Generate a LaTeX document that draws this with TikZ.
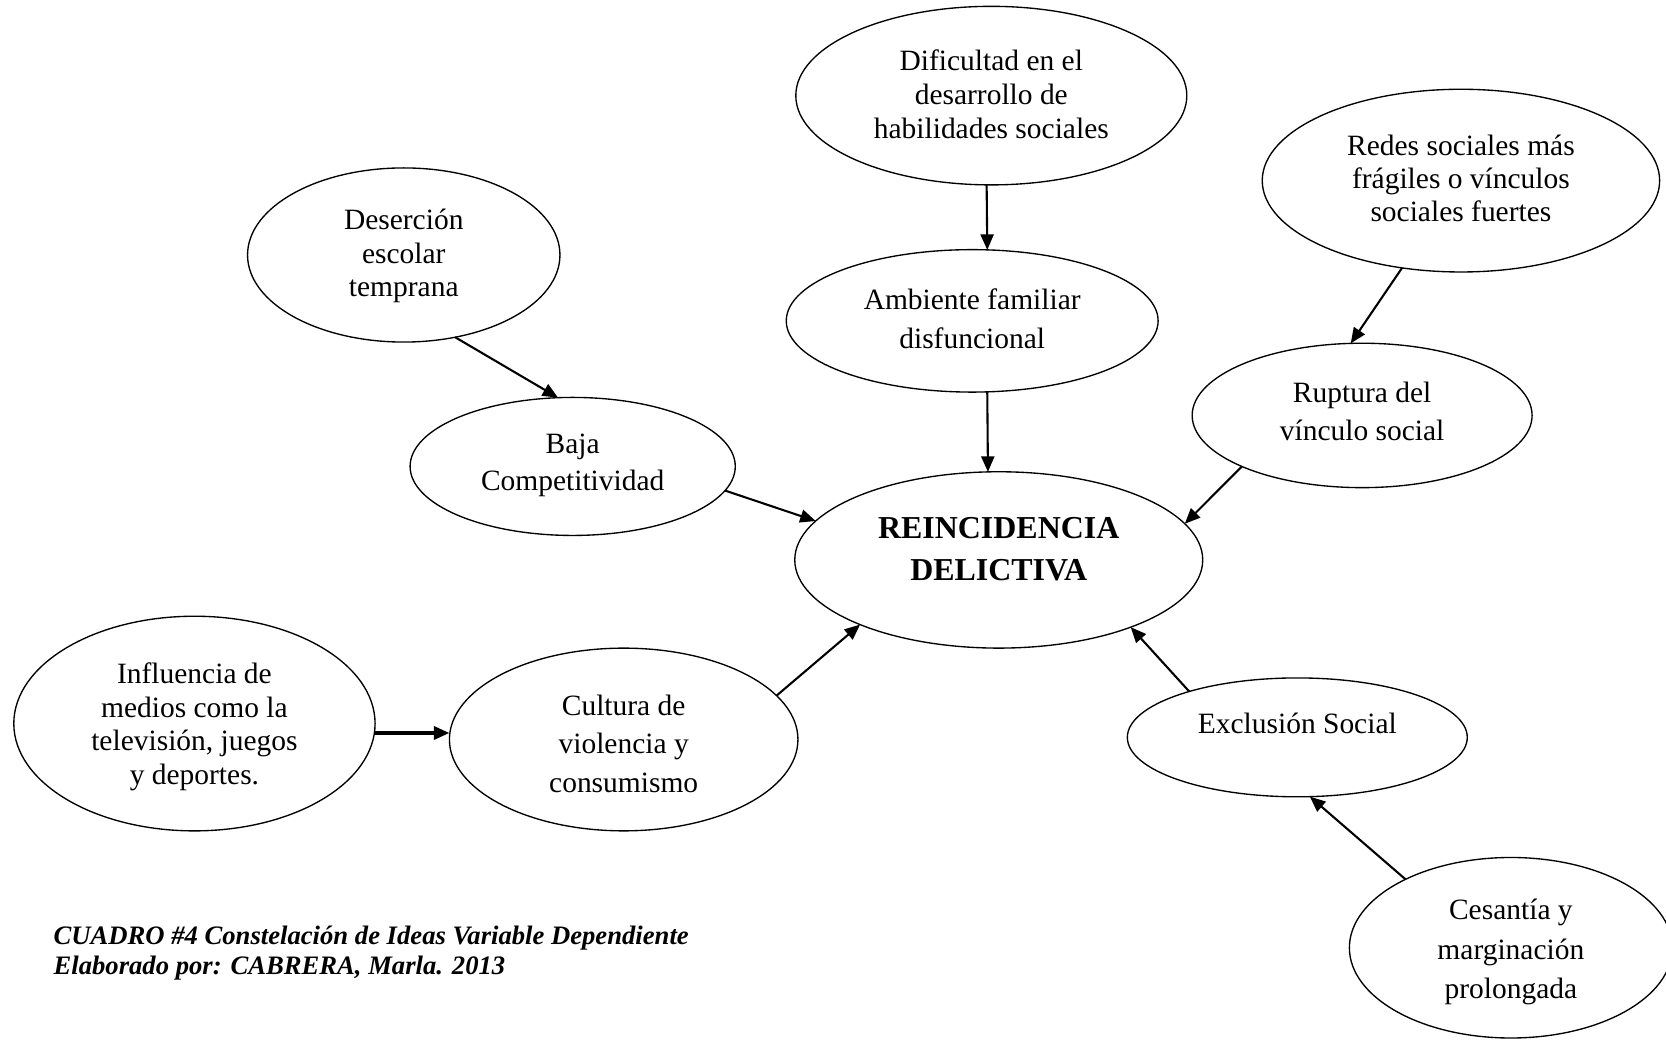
\documentclass[tikz,border=0pt]{standalone}
\usepackage{fontspec}
\setmainfont{Liberation Serif}
\usetikzlibrary{arrows.meta,shapes.geometric}
\tikzset{
  oval/.style={ellipse, draw, line width=0.55pt, inner sep=0pt, outer sep=0pt},
  txt/.style={font=\fontsize{12pt}{#1pt}\selectfont, align=center, inner sep=0pt},
  arr/.style={-{Triangle[length=6.3pt,width=5.3pt]}, line width=0.85pt},
  caption/.style={font=\fontsize{10.85pt}{12.1pt}\selectfont\bfseries\itshape, align=left, inner sep=0pt, anchor=west}
}
\begin{document}
\begin{tikzpicture}[x=0.4326pt, y=-0.4326pt]
\useasboundingbox (0,0) rectangle (1568,978);
\fill[white] (0,0) rectangle (1568,978);
\clip (0,0) rectangle (1568,978);

% ellipses
\node[oval, minimum width=159.2pt, minimum height=72.7pt] (dif) at (933,90) {};
\node[oval, minimum width=161.8pt, minimum height=74.4pt] (red) at (1375,170) {};
\node[oval, minimum width=127.2pt, minimum height=70.9pt] (des) at (380,240) {};
\node[oval, minimum width=151.4pt, minimum height=58.0pt] (amb) at (915,302) {};
\node[oval, minimum width=138.4pt, minimum height=58.8pt] (rup) at (1282,391) {};
\node[oval, minimum width=132.4pt, minimum height=56.2pt] (baj) at (539,439) {};
\node[oval, minimum width=166.1pt, minimum height=71.8pt] (rei) at (940,527) {};
\node[oval, minimum width=147.1pt, minimum height=87.4pt] (inf) at (183,681) {};
\node[oval, minimum width=141.9pt, minimum height=74.4pt] (cul) at (587,696) {};
\node[oval, minimum width=138.4pt, minimum height=48.4pt] (exc) at (1221,694) {};
\node[oval, minimum width=131.5pt, minimum height=73.5pt] (ces) at (1422,892) {};

% texts
\node[txt=13.84] (difT) at (933,89) {Dificultad en el\\desarrollo de\\habilidades sociales};
\node[txt=13.6] (redT) at (1375,168) {Redes sociales más\\frágiles o vínculos\\sociales fuertes};
\node[txt=13.6] (desT) at (380,241) {Deserción\\escolar\\temprana};
\node[txt=15.6] (ambT) at (915,300) {Ambiente familiar\\disfuncional};
\node[txt=15.4] (rupT) at (1282,387) {Ruptura del\\vínculo social};
\node[txt=14.9] (bajT) at (539,438) {Baja\\Competitividad};
\node[font=\fontsize{13pt}{16.9pt}\selectfont\bfseries, align=center, inner sep=0pt] (reiT) at (940,517) {REINCIDENCIA\\DELICTIVA};
\node[txt=13.6] (infT) at (183,684) {Influencia de\\medios como la\\televisión, juegos\\y deportes.};
\node[txt=15.8] (culT) at (587,700) {Cultura de\\violencia y\\consumismo};
\node[txt=14] (excT) at (1221,681) {Exclusión Social};
\node[txt=16.2] (cesT) at (1422,896) {Cesantía y\\marginación\\prolongada};

% connectors
\draw[arr] (dif.-93) -- (amb.78.5);
\draw[arr] (amb.-78.7) -- (rei.97.4);
\draw[arr] (red.-124.3) -- (rup.99.2);
\draw[arr] (rup.-157.1) -- (rei.11.9);
\draw[arr] (des.-58.4) -- (baj.102.3);
\draw[arr] (baj.-9.5) -- (rei.168.7);
\draw[arr, line width=1.3pt] (inf.-3) -- (inf.-3 -| cul.west);
\draw[arr] (cul.16.2) -- (rei.-155.4);
\draw[arr] (exc.157.3) -- (rei.-27.5);
\draw[arr] (ces.147.6) -- (exc.-78.9);

% caption
\node[caption] (cap) at (50,897) {CUADRO \#4 Constelación de Ideas Variable Dependiente\\Elaborado por: CABRERA, Marla. 2013};
\end{tikzpicture}
\end{document}
